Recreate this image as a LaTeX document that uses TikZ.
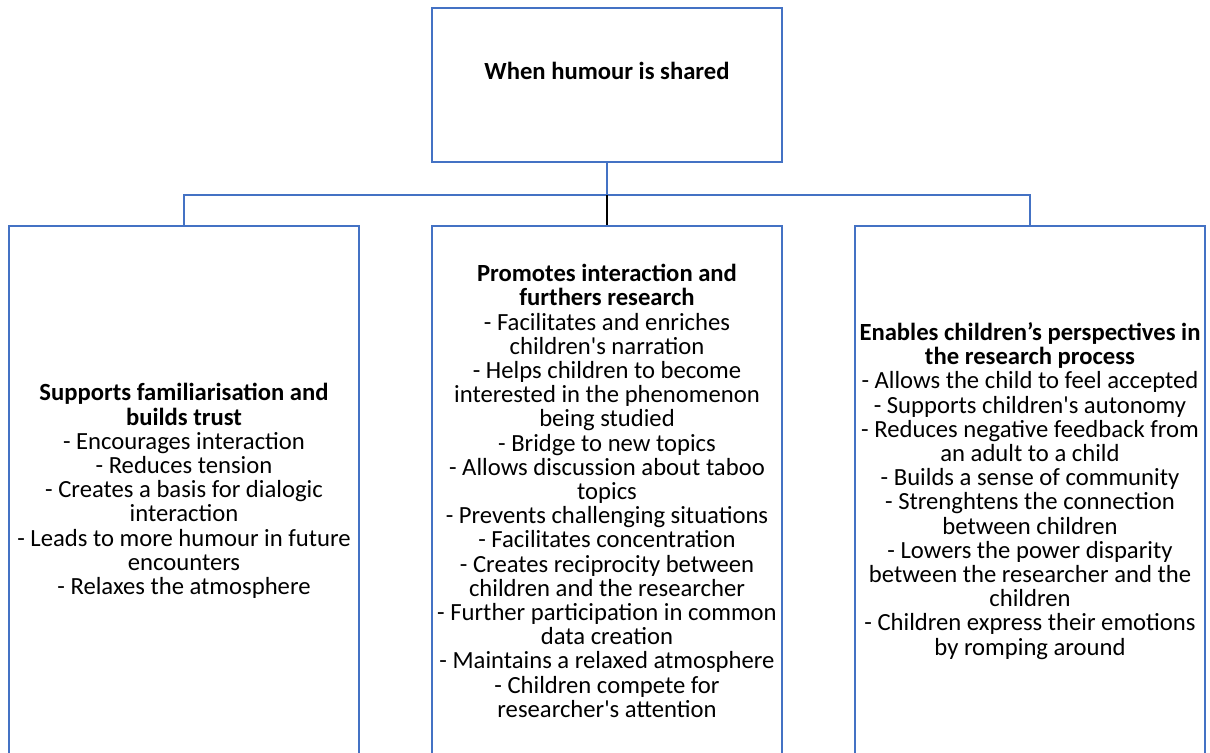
\documentclass[tikz,border=0pt]{standalone}
\usepackage{fontspec}
\setmainfont{Carlito}
\usetikzlibrary{positioning}
\definecolor{boxblue}{HTML}{4472C4}
\tikzset{
  orgbox/.style={draw=boxblue,line width=1.5pt,minimum width=262.5pt,align=center,inner sep=0pt,
    font=\fontsize{18.5}{18.15}\selectfont},
  topbox/.style={orgbox,minimum height=115.5pt,text depth=21.5pt,
    font=\fontsize{18.5}{18.15}\selectfont\bfseries},
  subbox/.style={orgbox,minimum height=397.5pt},
  link/.style={draw=boxblue,line width=1.5pt},
}
\begin{document}
\begin{tikzpicture}[x=0.75pt,y=-0.75pt]
\useasboundingbox (0,0) rectangle (1210,753);
\clip (0,0) rectangle (1210,753);
\node[topbox] (shared) at (607,85) {When humour is shared};
\node[subbox,below=46.5pt of shared] (promotes) {\textbf{Promotes interaction and}\\
  \textbf{furthers research}\\
  - Facilitates and enriches\\
  children\textquotesingle s narration\\
  - Helps children to become\\
  interested in the phenomenon\\
  being studied\\
  - Bridge to new topics\\
  - Allows discussion about taboo\\
  topics\\
  - Prevents challenging situations\\
  - Facilitates concentration\\
  - Creates reciprocity between\\
  children and the researcher\\
  - Further participation in common\\
  data creation\\
  - Maintains a relaxed atmosphere\\
  - Children compete for\\
  researcher\textquotesingle s attention};
\node[subbox,left=53.25pt of promotes] (supports) {\textbf{Supports familiarisation and}\\
  \textbf{builds trust}\\
  - Encourages interaction\\
  - Reduces tension\\
  - Creates a basis for dialogic\\
  interaction\\
  - Leads to more humour in future\\
  encounters\\
  - Relaxes the atmosphere};
\node[subbox,right=53.25pt of promotes] (enables) {\textbf{Enables children’s perspectives in}\\
  \textbf{the research process}\\
  - Allows the child to feel accepted\\
  - Supports children\textquotesingle s autonomy\\
  - Reduces negative feedback from\\
  an adult to a child\\
  - Builds a sense of community\\
  - Strenghtens the connection\\
  between children\\
  - Lowers the power disparity\\
  between the researcher and the\\
  children\\
  - Children express their emotions\\
  by romping around};
% branches
\coordinate (branch) at (607,195);
\draw[link] (shared.south) -- (branch);
\draw[link] (supports.north) |- (branch) -| (enables.north);
\draw[line width=1.5pt] (branch) -- (promotes.north);
\end{tikzpicture}
\end{document}
